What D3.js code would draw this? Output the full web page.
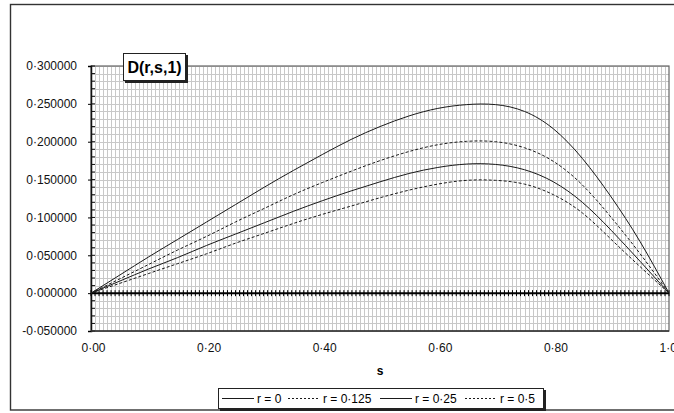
<!DOCTYPE html>
<html>
<head>
<meta charset="utf-8">
<script src="https://cdn.jsdelivr.net/npm/d3@7"></script>
<style>
  body { margin: 0; background: #fff; }
  svg { display: block; font-family: "Liberation Sans", Arial, sans-serif; }
  .grid line { stroke: #c8c8c8; stroke-width: 1; shape-rendering: crispEdges; }
  .curve { fill: none; stroke: #1a1a1a; stroke-width: 1; }
  .tick-label { font-size: 12px; fill: #111; }
</style>
</head>
<body>
<svg width="674" height="413"></svg>
<script>
// s values along the x axis
const sValues = [0, 0.05, 0.10, 0.15, 0.20, 0.25, 0.30, 0.35, 0.40, 0.45, 0.50,
  0.55, 0.60, 0.65, 0.70, 0.75, 0.80, 0.85, 0.90, 0.95, 1.00];

// D(r,s,1) for each r
const d_r0 = [0, 0.024, 0.048, 0.071, 0.094, 0.117, 0.140, 0.162, 0.183, 0.203, 0.220,
  0.234, 0.244, 0.249, 0.249, 0.240, 0.217, 0.178, 0.127, 0.068, 0];
const d_r0125 = [0, 0.019, 0.038, 0.057, 0.075, 0.094, 0.112, 0.130, 0.146, 0.161, 0.175,
  0.187, 0.196, 0.2005, 0.200, 0.192, 0.174, 0.143, 0.100, 0.052, 0];
const d_r025 = [0, 0.016, 0.032, 0.047, 0.063, 0.078, 0.093, 0.108, 0.122, 0.135, 0.147,
  0.158, 0.166, 0.1705, 0.170, 0.163, 0.147, 0.120, 0.083, 0.042, 0];
const d_r05 = [0, 0.013, 0.026, 0.039, 0.052, 0.066, 0.079, 0.092, 0.104, 0.115, 0.126,
  0.136, 0.144, 0.149, 0.149, 0.144, 0.130, 0.106, 0.071, 0.035, 0];

const seriesNames = ['r = 0', 'r = 0·125', 'r = 0·25', 'r = 0·5'];
const seriesDashed = [false, true, false, true];

const yTicks = [-0.05, 0, 0.05, 0.10, 0.15, 0.20, 0.25, 0.30];
const xTicks = [0, 0.2, 0.4, 0.6, 0.8, 1.0];

const series = [d_r0, d_r0125, d_r025, d_r05].map((vals, i) => ({
  name: seriesNames[i],
  dashed: seriesDashed[i],
  points: vals.map((v, j) => [sValues[j], v])
}));

const svg = d3.select('svg');
const plot = { left: 91, right: 669, top: 66, bottom: 331 };

const x = d3.scaleLinear().domain([0, 1]).range([plot.left, plot.right]);
const y = d3.scaleLinear().domain([-0.05, 0.30]).range([plot.bottom, plot.top]);

const decimal = f => v => d3.format(f)(v).replace('.', '·').replace('−', '-');

// outer chart frame
svg.append('rect')
  .attr('x', 10.5).attr('y', 4.5)
  .attr('width', 680).attr('height', 405.5)
  .attr('fill', '#fff')
  .attr('stroke', '#333').attr('stroke-width', 1.4);

// grid
const grid = svg.append('g').attr('class', 'grid');
grid.selectAll('line.v').data(d3.range(1, 144).map(i => i / 144))
  .enter().append('line')
  .attr('x1', d => Math.round(x(d)) + 0.5).attr('x2', d => Math.round(x(d)) + 0.5)
  .attr('y1', plot.top).attr('y2', plot.bottom);
grid.selectAll('line.h').data(d3.range(-5, 31).map(i => i / 100))
  .enter().append('line')
  .attr('x1', plot.left).attr('x2', plot.right)
  .attr('y1', d => Math.round(y(d)) + 0.5).attr('y2', d => Math.round(y(d)) + 0.5);

// plot area border
svg.append('rect')
  .attr('x', plot.left).attr('y', plot.top)
  .attr('width', plot.right - plot.left).attr('height', plot.bottom - plot.top)
  .attr('fill', 'none').attr('stroke', '#666').attr('stroke-width', 1.2);

// y axis
const yAxis = d3.axisLeft(y).tickValues(yTicks).tickSize(3).tickPadding(11)
  .tickFormat(decimal('.6f'));
const yG = svg.append('g').attr('transform', `translate(${plot.left},0)`).call(yAxis);
yG.select('.domain').attr('stroke', '#111').attr('stroke-width', 1.5);
yG.selectAll('text').attr('class', 'tick-label').attr('font-family', null).attr('font-size', null);
// inner minor ticks
yG.selectAll('line.minor').data(d3.range(-5, 31).map(i => i / 100))
  .enter().append('line').attr('class', 'minor')
  .attr('x1', 0).attr('x2', 4)
  .attr('y1', d => y(d)).attr('y2', d => y(d))
  .attr('stroke', '#111');

// bottom axis line (labels at the bottom)
svg.append('line')
  .attr('x1', plot.left).attr('x2', plot.right)
  .attr('y1', plot.bottom).attr('y2', plot.bottom)
  .attr('stroke', '#333').attr('stroke-width', 1.5);

// x axis crossing at zero
const zeroG = svg.append('g');
zeroG.append('line')
  .attr('x1', plot.left).attr('x2', plot.right)
  .attr('y1', y(0)).attr('y2', y(0))
  .attr('stroke', '#000').attr('stroke-width', 2);
zeroG.selectAll('line.mt').data(d3.range(0, 145).map(i => i / 144))
  .enter().append('line').attr('class', 'mt')
  .attr('x1', d => x(d)).attr('x2', d => x(d))
  .attr('y1', y(0) - 3).attr('y2', y(0) + 3)
  .attr('stroke', '#000').attr('stroke-width', 1);

// x tick labels
const xAxis = d3.axisBottom(x).tickValues(xTicks).tickSize(0).tickPadding(12)
  .tickFormat(decimal('.2f'));
const xG = svg.append('g').attr('transform', `translate(2,${plot.bottom})`).call(xAxis);
xG.select('.domain').remove();
xG.selectAll('text').attr('class', 'tick-label').attr('font-family', null).attr('font-size', null);

svg.append('text')
  .attr('x', 380).attr('y', 375)
  .attr('text-anchor', 'middle')
  .attr('font-size', 12).attr('font-weight', 'bold')
  .text('s');

// curves
const line = d3.line()
  .x(d => x(d[0])).y(d => y(d[1]))
  .curve(d3.curveNatural);

svg.selectAll('path.curve').data(series)
  .enter().append('path')
  .attr('class', 'curve')
  .attr('stroke-dasharray', d => d.dashed ? '3,2' : null)
  .attr('d', d => line(d.points));

// title box
const titleG = svg.append('g').attr('transform', 'translate(123,53)');
titleG.append('rect').attr('x', 2).attr('y', 2).attr('width', 63).attr('height', 28).attr('fill', '#222');
titleG.append('rect').attr('x', 0.5).attr('y', 0.5).attr('width', 62).attr('height', 27)
  .attr('fill', '#fff').attr('stroke', '#222').attr('stroke-width', 1);
titleG.append('text')
  .attr('x', 31.5).attr('y', 20)
  .attr('text-anchor', 'middle')
  .attr('font-size', 16).attr('font-weight', 'bold')
  .text('D(r,s,1)');

// legend
const legendG = svg.append('g').attr('transform', 'translate(218,388)');
legendG.append('rect').attr('x', 2).attr('y', 2).attr('width', 326).attr('height', 21).attr('fill', '#222');
legendG.append('rect').attr('x', 0.5).attr('y', 0.5).attr('width', 325).attr('height', 20)
  .attr('fill', '#fff').attr('stroke', '#222').attr('stroke-width', 1);
const legendX = [4, 70, 162, 247];
const items = legendG.selectAll('g.item').data(series)
  .enter().append('g')
  .attr('transform', (d, i) => `translate(${legendX[i]},0)`);
items.append('line')
  .attr('x1', 0).attr('x2', 32).attr('y1', 10.5).attr('y2', 10.5)
  .attr('stroke', '#1a1a1a')
  .attr('stroke-dasharray', d => d.dashed ? '2,2' : null);
items.append('text')
  .attr('x', 35).attr('y', 14.5)
  .attr('font-size', 12)
  .text(d => d.name);
</script>
</body>
</html>
